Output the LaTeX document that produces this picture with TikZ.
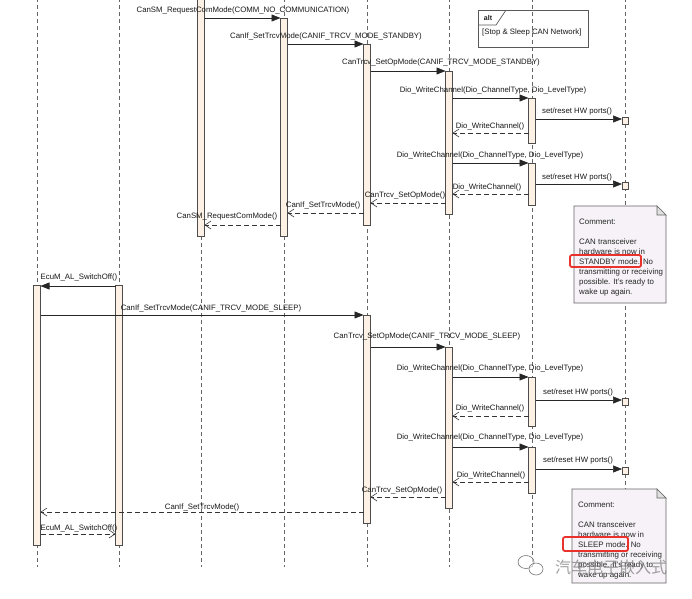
\documentclass[tikz,border=0pt]{standalone}
\usepackage{fontspec}
\setmainfont{Liberation Sans}
\newfontfamily\cjkwm{Noto Sans CJK SC}
\usetikzlibrary{arrows.meta}
\definecolor{barfill}{HTML}{FCF1E4}
\definecolor{notefill}{HTML}{F6F2F7}
\definecolor{redmark}{HTML}{E8322B}
\newcommand\lblfont{\fontsize{7.8}{9}\selectfont}
\newcommand\notefont{\fontsize{7.9}{10}\selectfont}
\tikzset{
  life/.style={draw=black!60, line width=0.6pt, dash pattern=on 4pt off 3pt},
  actbar/.style={draw=black!70, fill=barfill, line width=0.6pt, minimum width=7pt, inner sep=0pt, outer sep=0pt, anchor=north},
  portbox/.style={draw=black!70, fill=barfill, line width=0.6pt, minimum width=6pt, minimum height=7pt, inner sep=0pt, outer sep=0pt, anchor=north},
  call/.style={draw=black!85, line width=0.6pt, -{Triangle[length=9pt,width=7pt]}},
  ret/.style={draw=black!80, line width=0.6pt, dash pattern=on 5pt off 3pt, -{Straight Barb[length=6pt,width=8pt]}},
  lbl/.style={font=\lblfont, text=black!90, inner sep=0pt},
  notebody/.style={draw=black!60, fill=notefill, line width=0.7pt},
  notetext/.style={font=\notefont, text=black!85, inner sep=0pt, align=left, anchor=north west},
  redbox/.style={draw=redmark, line width=1.8pt, rounded corners=2pt},
  altbox/.style={draw=black!65, line width=0.7pt},
}
\begin{document}
\begin{tikzpicture}[x=1pt,y=-1pt]
\useasboundingbox (0,0) rectangle (692,598);
\fill[white] (0,0) rectangle (692,598);
% lifelines
\foreach \xx [count=\i] in {37,119,201,284,367,449,532,625}{
  \coordinate (lt\i) at (\xx,-2);
  \coordinate (lb\i) at (\xx,567);
  \draw[life] (lt\i) -- (lb\i);
}
% activation bars
\node[actbar, minimum height=241pt] (sm) at (201,-5) {};
\node[actbar, minimum height=218pt] (if1) at (284,18) {};
\node[actbar, minimum height=181pt] (tr1) at (367,44) {};
\node[actbar, minimum height=143pt] (dio1) at (449,71) {};
\node[actbar, minimum height=45pt] (hwa) at (532,98) {};
\node[actbar, minimum height=42pt] (hwb) at (532,163) {};
\node[portbox] (p1) at (625,117) {};
\node[portbox] (p2) at (625,182) {};
\node[actbar, minimum height=260pt] (ecu) at (37,285) {};
\node[actbar, minimum height=260pt] (al) at (119,285) {};
\node[actbar, minimum height=208pt] (tr2) at (367,315) {};
\node[actbar, minimum height=161pt] (dio2) at (449,347) {};
\node[actbar, minimum height=49pt] (hwc) at (532,377) {};
\node[actbar, minimum height=46pt] (hwd) at (532,447) {};
\node[portbox] (p3) at (625,398) {};
\node[portbox] (p4) at (625,467) {};
% alt frame
\draw[altbox] (478,10) rectangle (588,47);
\draw[altbox] (478,25) -- (496,25) -- (506,10);
\node[lbl, font=\bfseries\fontsize{7}{8}\selectfont] (alttag) at (488,17.5) {alt};
\node[lbl, anchor=west] (altcond) at (482,32.5) {[Stop \& Sleep CAN Network]};
% messages part 1
\draw[call] (sm.east |- 0,18) -- (if1.west |- 0,18);
\draw[call] (if1.east |- 0,44) -- (tr1.west |- 0,44);
\draw[call] (tr1.east |- 0,71) -- (dio1.west |- 0,71);
\draw[call] (dio1.east |- 0,98) -- (hwa.west |- 0,98);
\draw[call] (hwa.east |- 0,119) -- (p1.west |- 0,119);
\draw[ret] (hwa.west |- 0,133) -- (dio1.east |- 0,133);
\draw[call] (dio1.east |- 0,163) -- (hwb.west |- 0,163);
\draw[call] (hwb.east |- 0,184) -- (p2.west |- 0,184);
\draw[ret] (hwb.west |- 0,194) -- (dio1.east |- 0,194);
\draw[ret] (dio1.west |- 0,203) -- (tr1.east |- 0,203);
\draw[ret] (tr1.west |- 0,213) -- (if1.east |- 0,213);
\draw[ret] (if1.west |- 0,225) -- (sm.east |- 0,225);
% labels part 1
\node[lbl] (t1) at (243,10) {CanSM\_RequestComMode(COMM\_NO\_COMMUNICATION)};
\node[lbl] (t2) at (326,36) {CanIf\_SetTrcvMode(CANIF\_TRCV\_MODE\_STANDBY)};
\node[lbl] (t3) at (441,62) {CanTrcv\_SetOpMode(CANIF\_TRCV\_MODE\_STANDBY)};
\node[lbl] (t4) at (493,90) {Dio\_WriteChannel(Dio\_ChannelType, Dio\_LevelType)};
\node[lbl] (t5) at (577,111) {set/reset HW ports()};
\node[lbl] (t6) at (490,126) {Dio\_WriteChannel()};
\node[lbl] (t7) at (490,155) {Dio\_WriteChannel(Dio\_ChannelType, Dio\_LevelType)};
\node[lbl] (t8) at (577,177) {set/reset HW ports()};
\node[lbl] (t9) at (487,187) {Dio\_WriteChannel()};
\node[lbl] (t10) at (405,195) {CanTrcv\_SetOpMode()};
\node[lbl] (t11) at (323,205) {CanIf\_SetTrcvMode()};
\node[lbl] (t12) at (227,216) {CanSM\_RequestComMode()};
% messages part 2
\draw[call] (al.west |- 0,286) -- (ecu.east |- 0,286);
\draw[call] (ecu.east |- 0,315) -- (tr2.west |- 0,315);
\draw[call] (tr2.east |- 0,347) -- (dio2.west |- 0,347);
\draw[call] (dio2.east |- 0,377) -- (hwc.west |- 0,377);
\draw[call] (hwc.east |- 0,400) -- (p3.west |- 0,400);
\draw[ret] (hwc.west |- 0,416) -- (dio2.east |- 0,416);
\draw[call] (dio2.east |- 0,447) -- (hwd.west |- 0,447);
\draw[call] (hwd.east |- 0,469) -- (p4.west |- 0,469);
\draw[ret] (hwd.west |- 0,482) -- (dio2.east |- 0,482);
\draw[ret] (dio2.west |- 0,497) -- (tr2.east |- 0,497);
\draw[ret] (tr2.west |- 0,512) -- (ecu.east |- 0,512);
\draw[ret] (ecu.east |- 0,534) -- (al.west |- 0,534);
% labels part 2
\node[lbl] (t13) at (79,277) {EcuM\_AL\_SwitchOff()};
\node[lbl] (t14) at (211,308) {CanIf\_SetTrcvMode(CANIF\_TRCV\_MODE\_SLEEP)};
\node[lbl] (t15) at (427,336) {CanTrcv\_SetOpMode(CANIF\_TRCV\_MODE\_SLEEP)};
\node[lbl] (t16) at (490,368) {Dio\_WriteChannel(Dio\_ChannelType, Dio\_LevelType)};
\node[lbl] (t17) at (578,392) {set/reset HW ports()};
\node[lbl] (t18) at (490,408) {Dio\_WriteChannel()};
\node[lbl] (t19) at (490,437) {Dio\_WriteChannel(Dio\_ChannelType, Dio\_LevelType)};
\node[lbl] (t20) at (578,460) {set/reset HW ports()};
\node[lbl] (t21) at (491,475) {Dio\_WriteChannel()};
\node[lbl] (t22) at (402,490) {CanTrcv\_SetOpMode()};
\node[lbl] (t23) at (202,507) {CanIf\_SetTrcvMode()};
\node[lbl] (t24) at (79,528) {EcuM\_AL\_SwitchOff()};
% note 1
\draw[notebody] (574,206) -- (657,206) -- (666,215) -- (666,303) -- (574,303) -- cycle;
\draw[notebody, fill=black!12] (657,206) -- (657,215) -- (666,215) -- cycle;
\node[notetext] (n1) at (579,218.5) {Comment:\\[10pt]CAN transceiver\\hardware is now in\\STANDBY mode. No\\transmitting or receiving\\possible. It's ready to\\wake up again.};
\draw[redbox] (570,255) rectangle (641,267);
% note 2
\draw[notebody] (572,489) -- (657,489) -- (666,498) -- (666,583) -- (572,583) -- cycle;
\draw[notebody, fill=black!12] (657,489) -- (657,498) -- (666,498) -- cycle;
\node[notetext] (n2) at (578,501.5) {Comment:\\[10pt]CAN transceiver\\hardware is now in\\SLEEP mode. No\\transmitting or receiving\\possible. It's ready to\\wake up again.};
\draw[redbox] (563,537) rectangle (628,551);
% watermark
\draw[black!55, line width=0.6pt, fill=white, fill opacity=0.6] (526,562) ellipse (8pt and 6.5pt);
\draw[black!55, line width=0.6pt, fill=white, fill opacity=0.6] (536,569) ellipse (7pt and 6pt);
\node[font=\cjkwm\fontsize{16}{16}\selectfont, text=black!50, text opacity=0.75, inner sep=0pt] (wm) at (611,567) {汽车电子嵌入式};
\end{tikzpicture}
\end{document}
